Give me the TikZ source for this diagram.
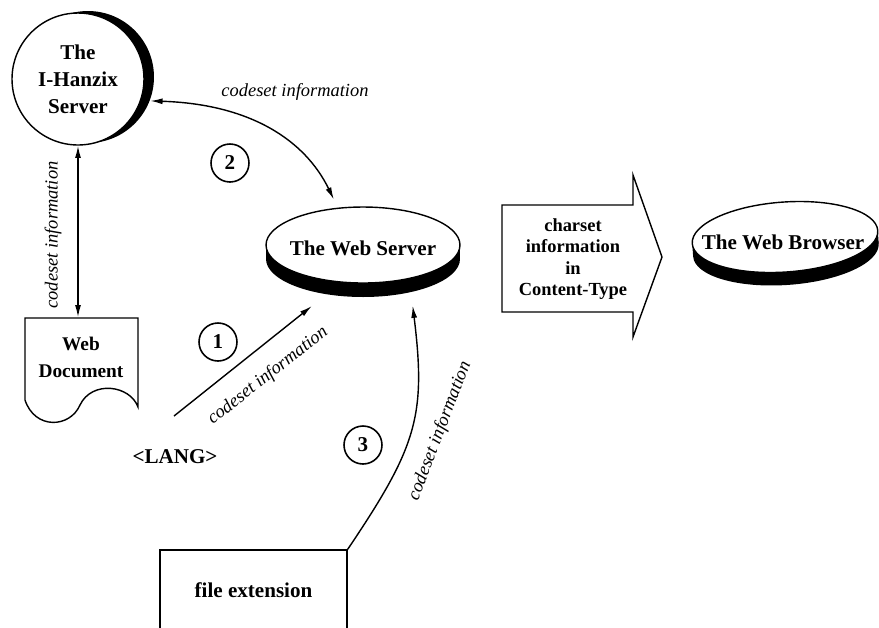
\documentclass[tikz,border=0pt]{standalone}
\usepackage{fontspec}
\setmainfont{Liberation Serif}
\usetikzlibrary{positioning,arrows.meta,shapes.geometric}

\begin{document}
\begin{tikzpicture}[x=0.02cm,y=0.02cm,line width=0.8pt,
  every node/.style={font=\bfseries\fontsize{12}{15.3}\selectfont, align=center},
  lbl/.style={font=\itshape\fontsize{10.5}{12}\selectfont},
  num/.style={circle, draw, line width=0.9pt, minimum size=0.76cm, inner sep=0pt},
  tip/.style={-{Latex[length=7pt,width=3.4pt]}},
  tips/.style={{Latex[length=7pt,width=3.4pt]}-{Latex[length=7pt,width=3.4pt]}}]
\useasboundingbox (0,0) rectangle (879,-627);

\def\hx{78}
\def\hy{-79}
\def\sx{363}
\def\sy{-245}
\def\bx{785}
\def\by{-237}

\node[circle, fill=black, minimum size=2.64cm] (hzs) at (\hx+10,\hy+2) {};
\node[circle, draw, fill=white, minimum size=2.64cm, inner sep=0pt] (hz) at (\hx,\hy) {The\\I-Hanzix\\Server};

\fill (\sx-97,\sy) rectangle (\sx+97,\sy-14);
\node[ellipse, fill=black, minimum width=3.88cm, minimum height=1.52cm] (wss) at (\sx,\sy-14) {};
\node[ellipse, draw, fill=white, minimum width=3.88cm, minimum height=1.52cm] (ws) at (\sx,\sy) {};
\node (wst) at (\sx,\sy-3) {The Web Server};

\begin{scope}[rotate around={4:(\bx,\by)}]
\fill (\bx-93,\by) rectangle (\bx+93,\by-13);
\fill (\bx,\by-13) ellipse [x radius=93, y radius=35];
\end{scope}
\node[ellipse, draw, fill=white, minimum width=3.72cm, minimum height=1.4cm, rotate=4] (wb) at (\bx,\by) {};
\node (wbt) at (\bx-2,\by-5) {The Web Browser};

\draw (502,-205) -- (633,-205) -- (633,-175) -- (662,-257) -- (633,-337) -- (633,-312) -- (502,-312) -- cycle;
\node[font=\bfseries\fontsize{10.5}{12.3}\selectfont] (ct) at (573,-259) {charset\\information\\in\\Content-Type};

\draw (25,-318) -- (138,-318) -- (138,-407) .. controls (130,-385) and (92,-380) .. (80,-405)
  .. controls (70,-428) and (35,-430) .. (25,-400) -- cycle;
\node[font=\bfseries\fontsize{11}{15.3}\selectfont, minimum height=1.56cm] (doc) at (81,-357) {Web\\Document};

\node (lang) at (175,-457) {<LANG>};
\node[draw, minimum width=3.74cm, minimum height=1.6cm] (fe) at (253.5,-590) {file extension};

\node[num] (n1) at (218,-342) {1};
\node[num] (n2) at (230,-163) {2};
\node[num] (n3) at (363,-445) {3};

\coordinate (l1) at (174,-416);

\draw[tips] (hz.south) -- (hz.south |- doc.north);
\draw[tips, shorten >=0.18cm] (hzs.-21) .. controls (250,-104) and (305,-140) .. (ws.124);
\draw[tip, shorten >=0.36cm] (l1) -- (wss.224);
\draw[tip, shorten >=0.26cm] (fe.north east) to[out=56, in=-83, looseness=1.2] (wss.-35);

\node[lbl] (la) at (295,-92) {codeset information};
\node[lbl, rotate=90] (lb) at (53,-235) {codeset information};
\node[lbl, rotate=38] (lc) at (268,-376) {codeset information};
\node[lbl, rotate=69] (ld) at (440,-431) {codeset information};
\end{tikzpicture}
\end{document}
